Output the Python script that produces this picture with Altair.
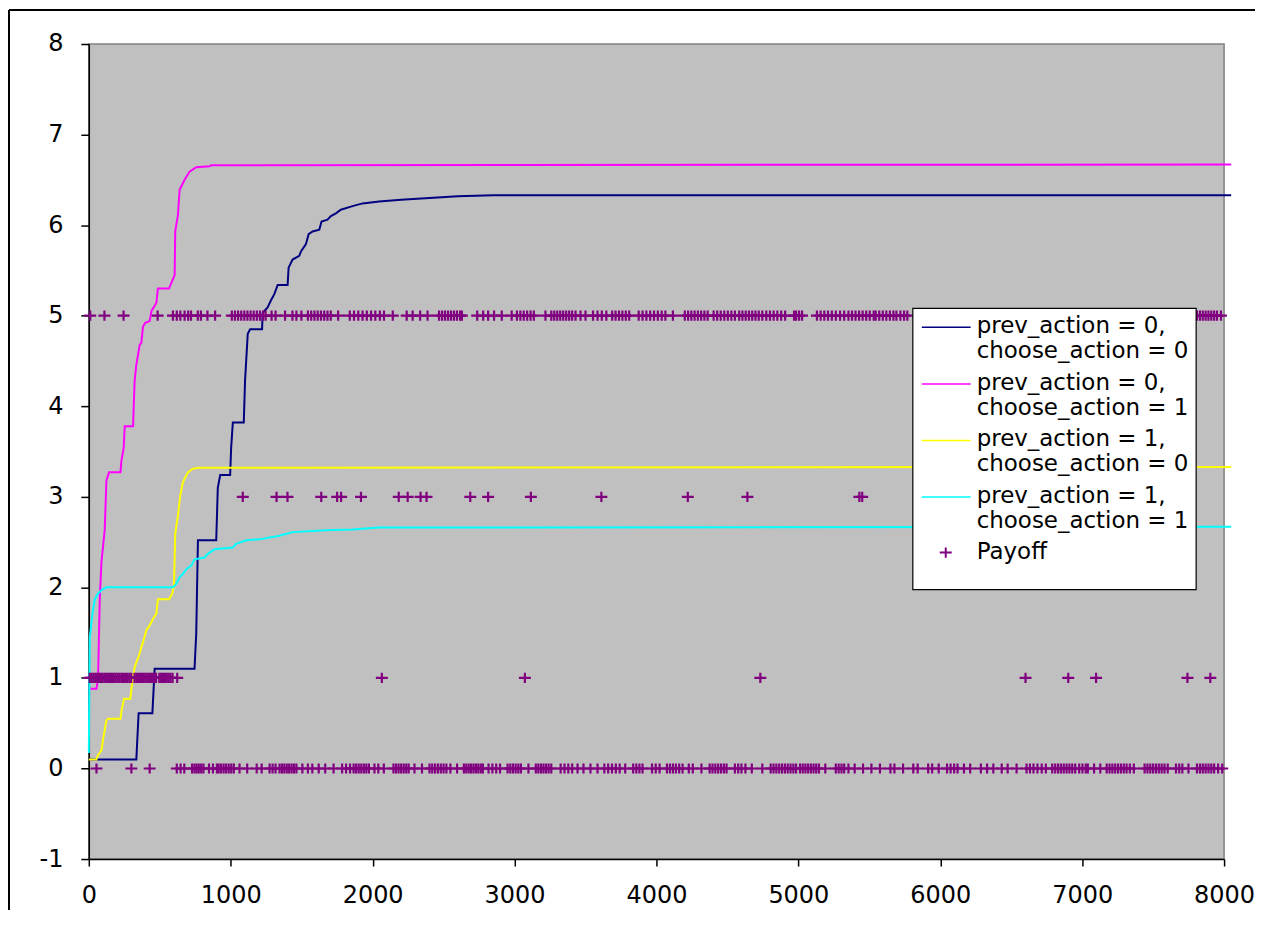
import altair as alt
import pandas as pd

# ---------------- data ----------------
x_ticks = [0, 1000, 2000, 3000, 4000, 5000, 6000, 7000, 8000]
y_ticks = [-1, 0, 1, 2, 3, 4, 5, 6, 7, 8]

series_names = [
    "prev_action = 0, choose_action = 0",
    "prev_action = 0, choose_action = 1",
    "prev_action = 1, choose_action = 0",
    "prev_action = 1, choose_action = 1",
]
series_colors = ["#000080", "#FF00FF", "#FFFF00", "#00FFFF"]

s00_x = [0, 335, 351, 448, 464, 745, 757, 769, 898, 909, 926, 996, 1003, 1015, 1092, 1101, 1120, 1137, 1221, 1225,
         1260, 1284, 1308, 1331, 1401, 1408, 1436, 1483, 1495, 1530, 1549, 1577, 1624, 1640, 1682, 1706, 1741, 1776,
         1858, 1929, 2046, 2200, 2400, 2600, 2850, 8050]
s00_y = [0.10, 0.10, 0.61, 0.61, 1.10, 1.10, 1.49, 2.52, 2.52, 3.10, 3.24, 3.24, 3.54, 3.82, 3.82, 4.28, 4.80, 4.85,
         4.85, 5.03, 5.09, 5.17, 5.24, 5.34, 5.34, 5.53, 5.62, 5.66, 5.71, 5.79, 5.90, 5.93, 5.95, 6.04, 6.06, 6.10,
         6.13, 6.17, 6.21, 6.24, 6.26, 6.28, 6.30, 6.32, 6.33, 6.33]

s01_x = [0, 54, 65, 77, 89, 112, 124, 143, 223, 230, 246, 253, 312, 316, 323, 335, 359, 370, 382, 398, 429, 441, 476,
         487, 565, 581, 605, 609, 628, 640, 675, 710, 757, 851, 862, 8050]
s01_y = [0.88, 0.88, 0.99, 1.86, 2.28, 2.63, 3.18, 3.27, 3.27, 3.40, 3.54, 3.78, 3.78, 3.98, 4.28, 4.46, 4.68, 4.70,
         4.88, 4.92, 4.94, 5.05, 5.14, 5.30, 5.30, 5.36, 5.45, 5.93, 6.11, 6.39, 6.50, 6.59, 6.64, 6.65, 6.66, 6.67]

s10_x = [0, 54, 65, 89, 101, 124, 136, 223, 230, 248, 293, 300, 323, 359, 370, 389, 406, 429, 452, 476, 487, 565,
         588, 600, 609, 628, 644, 663, 698, 733, 776, 8050]
s10_y = [0.10, 0.10, 0.15, 0.20, 0.33, 0.53, 0.55, 0.55, 0.63, 0.77, 0.77, 0.88, 1.12, 1.27, 1.34, 1.43, 1.53, 1.58,
         1.65, 1.71, 1.87, 1.87, 1.93, 2.02, 2.59, 2.79, 3.01, 3.16, 3.27, 3.31, 3.32, 3.33]

s11_x = [0, 7, 26, 42, 65, 89, 124, 593, 617, 640, 663, 687, 722, 745, 815, 839, 886, 1015, 1038, 1109, 1202, 1343,
         1436, 1671, 1858, 2046, 8050]
s11_y = [0.17, 1.45, 1.71, 1.87, 1.93, 1.97, 2.00, 2.00, 2.04, 2.11, 2.15, 2.20, 2.24, 2.31, 2.33, 2.37, 2.42, 2.44,
         2.48, 2.52, 2.53, 2.57, 2.61, 2.63, 2.64, 2.66, 2.67]

payoff0_x = [54, 300, 429, 620, 647, 673, 728, 745, 760, 775, 792, 808, 847, 875, 903, 915, 932, 950, 968, 986, 1004,
             1022, 1062, 1116, 1183, 1218, 1274, 1295, 1316, 1344, 1361, 1378, 1395, 1412, 1429, 1446, 1463, 1505,
             1544, 1575, 1620, 1666, 1725, 1785, 1813, 1841, 1866, 1884, 1902, 1920, 1938, 1956, 1974, 2013, 2040,
             2079, 2147, 2165, 2183, 2201, 2219, 2237, 2254, 2295, 2348, 2401, 2420, 2440, 2460, 2480, 2500, 2520,
             2548, 2595, 2643, 2660, 2677, 2694, 2711, 2728, 2745, 2762, 2777, 2817, 2844, 2871, 2898, 2951, 2970,
             2989, 3008, 3027, 3045, 3098, 3150, 3168, 3186, 3204, 3222, 3240, 3259, 3325, 3352, 3379, 3406, 3444,
             3486, 3535, 3585, 3633, 3660, 3687, 3714, 3741, 3780, 3836, 3858, 3880, 3902, 3969, 3995, 4022, 4074,
             4095, 4116, 4137, 4160, 4184, 4228, 4256, 4317, 4375, 4395, 4415, 4435, 4455, 4475, 4494, 4553, 4576,
             4599, 4627, 4672, 4746, 4805, 4825, 4845, 4865, 4885, 4905, 4925, 4945, 4965, 4984, 5012, 5031, 5050,
             5069, 5088, 5107, 5126, 5145, 5190, 5264, 5284, 5304, 5323, 5353, 5397, 5456, 5515, 5575, 5649, 5677,
             5738, 5810, 5841, 5915, 5943, 5989, 6048, 6073, 6098, 6122, 6167, 6211, 6286, 6330, 6374, 6433, 6475,
             6538, 6608, 6632, 6657, 6685, 6715, 6744, 6789, 6810, 6830, 6850, 6870, 6890, 6910, 6930, 6951, 6979,
             7002, 7025, 7040, 7084, 7128, 7173, 7193, 7213, 7233, 7253, 7273, 7293, 7313, 7336, 7364, 7440, 7460,
             7480, 7500, 7520, 7540, 7560, 7580, 7603, 7661, 7684, 7706, 7749, 7809, 7830, 7850, 7870, 7890, 7910,
             7930, 7958, 7987]
payoff1_x = [7, 20, 33, 46, 59, 72, 85, 98, 112, 124, 137, 150, 163, 176, 189, 202, 215, 229, 240, 255, 270, 285, 299,
             322, 335, 348, 361, 374, 387, 400, 413, 426, 439, 452, 465, 474, 497, 510, 523, 536, 549, 562, 575, 590,
             623, 2065, 3073, 4732, 6601, 6902, 7098, 7742, 7903]
payoff3_x = [1085, 1323, 1400, 1638, 1750, 1778, 1918, 2184, 2247, 2338, 2380, 2688, 2814, 3115, 3612, 4221, 4641,
             5430, 5450]
payoff5_x = [10, 110, 245, 485, 593, 620, 645, 675, 700, 720, 768, 790, 836, 890, 1008, 1030, 1052, 1074, 1096, 1118,
             1140, 1162, 1184, 1206, 1228, 1246, 1288, 1316, 1383, 1435, 1463, 1498, 1544, 1567, 1590, 1613, 1636,
             1659, 1682, 1705, 1757, 1839, 1869, 1899, 1929, 1959, 1989, 2019, 2051, 2080, 2142, 2240, 2282, 2335,
             2387, 2468, 2489, 2510, 2531, 2552, 2573, 2594, 2616, 2629, 2737, 2779, 2814, 2856, 2910, 2980, 3017,
             3041, 3065, 3089, 3113, 3136, 3218, 3259, 3280, 3301, 3322, 3343, 3364, 3385, 3406, 3430, 3465, 3500,
             3553, 3585, 3615, 3647, 3688, 3712, 3736, 3760, 3784, 3808, 3875, 3902, 3929, 3956, 3983, 4010, 4037,
             4063, 4116, 4200, 4223, 4246, 4269, 4292, 4315, 4338, 4361, 4403, 4428, 4453, 4478, 4503, 4528, 4553,
             4583, 4606, 4629, 4652, 4675, 4698, 4721, 4746, 4774, 4800, 4826, 4852, 4879, 4907, 4970, 4984, 5005,
             5026, 5131, 5157, 5183, 5209, 5236, 5264, 5294, 5323, 5353, 5378, 5403, 5428, 5453, 5478, 5503, 5531,
             5545, 5570, 5595, 5620, 5645, 5670, 5691, 5719, 5745, 5768, 7809, 7830, 7850, 7870, 7890, 7910, 7930,
             7950, 7978]
payoff_label = "Payoff"

# ---------------- tables ----------------
rows = []
for name, xs_, ys_ in zip(series_names, [s00_x, s01_x, s10_x, s11_x], [s00_y, s01_y, s10_y, s11_y]):
    for i, (xv, yv) in enumerate(zip(xs_, ys_)):
        rows.append({"series": name, "x": xv, "y": yv, "order": i})
lines_df = pd.DataFrame(rows)

prow = []
for level, xs_ in [(0, payoff0_x), (1, payoff1_x), (3, payoff3_x), (5, payoff5_x)]:
    for xv in xs_:
        prow.append({"x": xv, "y": level})
pay_df = pd.DataFrame(prow)

W, H = 1138, 817
FONT = "DejaVu Sans"
PLUS = "M-1,0H1M0,-0.85V0.85"

xs = alt.Scale(domain=[0, 8000], nice=False, zero=False)
ys = alt.Scale(domain=[-1, 8], nice=False, zero=False)

x_axis = alt.Axis(values=x_ticks, title=None, grid=False, domainColor="black", domainWidth=1.5,
                  tickColor="black", tickSize=7, tickWidth=1.5, labelFont=FONT, labelFontSize=24,
                  labelColor="black", labelPadding=18, labelFlush=False, labelOverlap=False,
                  labelExpr="'' + datum.value")
y_axis = alt.Axis(values=y_ticks, title=None, grid=False, domainColor="black", domainWidth=1.5,
                  tickColor="black", tickSize=8, tickWidth=1.5, labelFont=FONT, labelFontSize=24,
                  labelColor="black", labelPadding=18, labelOverlap=False,
                  labelExpr="'' + datum.value")

lines = alt.Chart(lines_df).mark_line(strokeWidth=2, clip=False).encode(
    x=alt.X("x:Q", scale=xs, axis=x_axis),
    y=alt.Y("y:Q", scale=ys, axis=y_axis),
    color=alt.Color("series:N", scale=alt.Scale(domain=series_names, range=series_colors), legend=None),
    detail="series:N",
    order="order:Q",
)

points = alt.Chart(pay_df).mark_point(shape=PLUS, size=144, filled=False, strokeWidth=2.2,
                                      color="#800080", opacity=1, clip=False).encode(
    x=alt.X("x:Q", scale=xs, axis=None),
    y=alt.Y("y:Q", scale=ys, axis=None),
)

# ---------------- legend (pixel space) ----------------
LX0, LX1, LY0, LY1 = 826, 1110, 265, 547
gap = 56.7
box = alt.Chart(pd.DataFrame({"a": [0]})).mark_rect(fill="white", stroke="black", strokeWidth=1.2).encode(
    x=alt.value(LX0), x2=alt.value(LX1), y=alt.value(LY0), y2=alt.value(LY1))

sym_rows, txt_rows = [], []
for i, name in enumerate(series_names):
    yc = 284 + gap * i
    sym_rows.append({"series": name, "x1": 835, "x2": 884, "yy": yc})
    first, second = name.split(", ")
    txt_rows.append({"lx": 890, "ly": yc - 1, "label": first + ","})
    txt_rows.append({"lx": 890, "ly": yc + 24, "label": second})
txt_rows.append({"lx": 890, "ly": 284 + gap * 4 - 2, "label": payoff_label})
sym_df = pd.DataFrame(sym_rows)
txt_df = pd.DataFrame(txt_rows)

syms = alt.Chart(sym_df).mark_rule(strokeWidth=1.5).encode(
    x=alt.X("x1:Q", scale=None, axis=None), x2="x2:Q",
    y=alt.Y("yy:Q", scale=None, axis=None),
    color=alt.Color("series:N", scale=alt.Scale(domain=series_names, range=series_colors), legend=None),
)
texts = alt.Chart(txt_df).mark_text(align="left", baseline="middle", font=FONT, fontSize=23, color="black").encode(
    x=alt.X("lx:Q", scale=None, axis=None),
    y=alt.Y("ly:Q", scale=None, axis=None),
    text="label:N",
)
leg_plus = alt.Chart(pd.DataFrame({"a": [0]})).mark_point(shape=PLUS, size=144, filled=False, strokeWidth=2,
                                                           color="#800080", opacity=1).encode(
    x=alt.value(859), y=alt.value(284 + gap * 4 - 1))

# ---------------- outer frame ----------------
frame_top = alt.Chart(pd.DataFrame({"a": [0]})).mark_rule(color="black", strokeWidth=2).encode(
    x=alt.value(-80), x2=alt.value(W + 40), y=alt.value(-34))
frame_left = alt.Chart(pd.DataFrame({"a": [0]})).mark_rule(color="black", strokeWidth=2).encode(
    x=alt.value(-80), y=alt.value(-34), y2=alt.value(H + 60))

chart = alt.layer(lines, points, box, syms, texts, leg_plus, frame_top, frame_left).resolve_scale(
    x="independent", y="independent", color="independent"
).properties(
    width=W, height=H,
    padding={"left": 81, "top": 35, "right": 31, "bottom": 50},
    autosize=alt.AutoSizeParams(type="none"),
    background="white",
).configure_view(fill="#C0C0C0", stroke="#808080", strokeWidth=1.5)

chart.save("out.html", embed_options={"renderer": "svg", "actions": False})
